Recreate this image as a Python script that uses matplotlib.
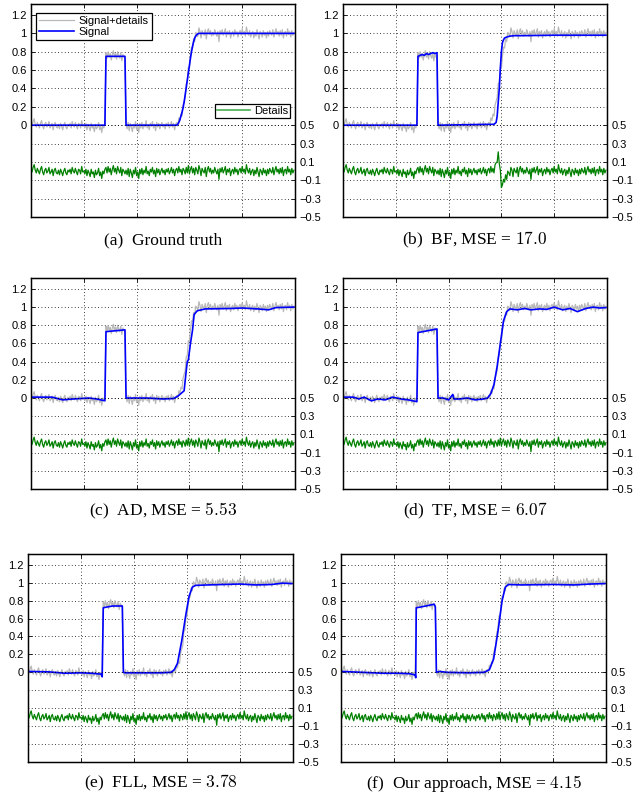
import numpy as np
import matplotlib
matplotlib.use("Agg")
import matplotlib.pyplot as plt

# input noise (the "details"), one value per sample
noise = [
    0.02, -0.01, 0.04, 0.07, 0.01, -0.02, 0.03, 0.00, -0.03, 0.02, 0.05, -0.01, -0.04, 0.01, 0.03, -0.02, 0.00, 0.04, -0.03, -0.01, 0.02, -0.05, 0.01, 0.03, -0.02,
    -0.03, 0.01, -0.04, 0.02, -0.01, -0.05, 0.00, 0.03, -0.02, -0.04, 0.01, -0.01, 0.02, -0.03, 0.04, 0.00, -0.02, 0.03, -0.01, -0.04, 0.02, 0.01, -0.03, 0.05, -0.01,
    0.00, -0.03, 0.02, -0.05, 0.01, -0.02, -0.06, 0.02, -0.03, -0.01, -0.07, 0.01, -0.04, -0.02, 0.03, -0.05, -0.01, -0.08, 0.00, -0.03, 0.02, 0.04, -0.02, 0.05, -0.01,
    0.03, -0.04, 0.02, 0.06, -0.01, 0.03, -0.03, 0.05, 0.01, -0.02, 0.04, -0.05, 0.02, 0.00, -0.03, 0.01, -0.04, 0.03, -0.06, 0.02, -0.02, -0.07, 0.01, -0.03, 0.04,
    -0.05, -0.01, -0.08, 0.02, -0.03, 0.03, -0.04, 0.01, -0.02, 0.05, -0.03, 0.00, -0.05, 0.02, -0.01, 0.04, -0.03, 0.01, -0.06, 0.03, -0.02, 0.02, -0.04, 0.00, 0.03,
    -0.02, 0.01, -0.04, 0.02, -0.01, 0.03, -0.03, 0.00, 0.04, -0.02, 0.02, -0.05, 0.01, 0.03, -0.02, 0.05, -0.01, 0.02, -0.04, 0.03, 0.01, -0.03, 0.04, -0.02, 0.06,
    -0.03, 0.02, 0.05, -0.02, 0.03, -0.04, 0.04, 0.01, -0.03, 0.06, 0.02, -0.05, 0.03, 0.00, -0.02, 0.04, -0.06, 0.02, 0.05, -0.01, 0.03, -0.03, 0.01, -0.02, 0.04,
    0.00, -0.03, 0.02, -0.09, 0.03, -0.01, 0.04, -0.02, 0.01, 0.05, -0.04, 0.02, -0.01, 0.03, -0.05, 0.00, 0.02, -0.03, 0.04, -0.01, 0.02, -0.04, 0.01, 0.03, -0.02,
    0.05, -0.01, 0.02, -0.03, 0.07, 0.01, -0.02, 0.03, -0.04, 0.00, 0.02, -0.05, 0.01, -0.03, 0.04, -0.01, -0.06, 0.02, 0.00, -0.04, 0.03, -0.02, 0.01, -0.05, 0.02,
    -0.03, 0.03, 0.00, -0.02, 0.04, -0.04, 0.01, 0.05, -0.01, 0.02, -0.03, 0.03, -0.02, 0.04, -0.05, 0.01, 0.02, -0.03, 0.05, -0.01, 0.02, -0.04, 0.03, -0.02, 0.01,
]

# clean signal: flat, pulse, flat, ramp, flat
ramp = [0.01, 0.03, 0.06, 0.10, 0.14, 0.19, 0.25, 0.33, 0.41, 0.49,
        0.57, 0.65, 0.73, 0.80, 0.86, 0.91, 0.95, 0.97, 0.985, 0.995]
signal = [0.0] * 71 + [0.75] * 19 + [0.0] * 49 + ramp + [1.0] * 91

# BF leaves a bump in the details around the ramp (samples 141..161)
bf_bump_start = 141
bf_bump = [0.0, 0.01, 0.02, 0.04, 0.08, 0.13, 0.17, 0.10, -0.05, -0.15, -0.17,
           -0.14, -0.10, -0.07, -0.05, -0.04, -0.03, -0.02, -0.02, -0.01, -0.01]

# estimated signals (x, y) for each method
bf_x = [0, 70, 71, 73, 75, 77, 79, 81, 83, 85, 87, 89, 90, 91, 143, 145, 146, 147, 148, 149,
        150, 151, 152, 153, 155, 158, 162, 170, 200, 249]
bf_y = [0.0, 0.0, 0.75, 0.76, 0.77, 0.76, 0.78, 0.77, 0.78, 0.79, 0.78, 0.79, 0.0, 0.0, 0.01, 0.03,
        0.10, 0.25, 0.40, 0.62, 0.80, 0.90, 0.93, 0.95, 0.96, 0.97, 0.975, 0.975, 0.98, 0.98]

ad_x = [0, 20, 30, 40, 55, 62, 70, 71, 80, 89, 90, 95, 110, 125, 135, 139, 142, 145, 147,
        148, 149, 151, 153, 154.5, 157.5, 165, 190, 200, 215, 225, 232, 249]
ad_y = [0.01, 0.01, -0.02, -0.01, 0.0, -0.01, -0.03, 0.73, 0.74, 0.75, 0.0, 0.0, 0.0, -0.01,
        -0.005, 0.02, 0.05, 0.08, 0.30, 0.40, 0.42, 0.60, 0.75, 0.92, 0.96, 0.98, 0.985, 0.99,
        0.98, 0.97, 0.995, 1.0]

tf_x = [0, 10, 15, 20, 27, 33, 40, 47, 55, 62, 70, 71, 80, 89, 90, 95, 100, 104, 105, 110,
        118, 125, 133, 137, 140, 143, 146, 149, 152, 155, 158, 165, 172, 178, 186, 193, 200,
        208, 215, 222, 230, 237, 243, 249]
tf_y = [0.01, 0.01, -0.01, 0.01, -0.03, -0.01, -0.02, 0.01, -0.01, -0.02, -0.04, 0.72, 0.74,
        0.76, 0.0, 0.0, -0.02, 0.04, -0.01, -0.01, 0.0, -0.02, -0.01, 0.0, 0.05, 0.15, 0.35,
        0.60, 0.85, 0.95, 0.98, 0.97, 0.985, 0.97, 0.98, 0.975, 1.0, 0.97, 0.985, 0.95, 0.985,
        1.0, 0.99, 0.995]

fll_x = [0, 20, 35, 50, 60, 69, 70, 71, 75, 80, 89, 90, 92, 110, 125, 135, 138, 141, 145,
         149, 152, 155, 158, 170, 200, 215, 230, 240, 249]
fll_y = [0.01, 0.005, -0.01, -0.005, -0.01, -0.02, -0.05, 0.72, 0.73, 0.74, 0.74, 0.0,
         -0.005, -0.005, -0.005, 0.0, 0.03, 0.10, 0.35, 0.65, 0.85, 0.95, 0.97, 0.975, 0.985,
         0.975, 0.98, 0.995, 0.99]

our_x = [0, 20, 40, 55, 65, 70, 70.5, 71, 80, 88, 89, 90, 93, 100, 120, 135, 140, 144, 148,
         152, 155, 158, 170, 200, 220, 235, 249]
our_y = [0.01, 0.0, -0.01, -0.01, -0.015, -0.03, -0.06, 0.72, 0.74, 0.76, 0.73, 0.0, 0.01,
         0.0, -0.005, 0.0, 0.03, 0.15, 0.45, 0.80, 0.95, 0.98, 0.975, 0.98, 0.975, 0.985, 0.99]

captions = ["(a)  Ground truth", "(b)  BF, MSE = $17.0$", "(c)  AD, MSE = $5.53$",
            "(d)  TF, MSE = $6.07$", "(e)  FLL, MSE = $3.78$", "(f)  Our approach, MSE = $4.15$"]

x = np.arange(len(signal))
noise = np.array(noise)
signal = np.array(signal)
noisy = signal + noise

bf_details = noise.copy()
bf_details[bf_bump_start:bf_bump_start + len(bf_bump)] += np.array(bf_bump)

panels = [
    (x, signal, noise),
    (bf_x, bf_y, bf_details),
    (ad_x, ad_y, noise),
    (tf_x, tf_y, noise),
    (fll_x, fll_y, noise),
    (our_x, our_y, noise),
]

plt.rcParams["font.family"] = ["Liberation Sans", "DejaVu Sans"]
plt.rcParams["mathtext.fontset"] = "cm"

W, H = 644, 797
fig = plt.figure(figsize=(W / 100, H / 100), dpi=100)

# axes boxes in pixels: left, right, top, bottom
boxes = [
    (31, 295, 4, 217), (343, 607, 4, 217),
    (31, 295, 278, 489), (343, 607, 278, 489),
    (28, 293, 554, 762), (341, 606, 554, 762),
]
cap_y = [240, 511, 783]

GRAY = "#b8b8b8"
BLUE = "#0000ff"
GREEN = "#008000"
YTOP = 1.32

for i, ((l, r, t, b), (sx, sy, det)) in enumerate(zip(boxes, panels)):
    ax = fig.add_axes([l / W, 1 - b / H, (r - l) / W, (b - t) / H])
    ax.plot(x, noisy, color=GRAY, lw=0.9, label="Signal+details")
    ax.plot(sx, sy, color=BLUE, lw=1.2, label="Signal")
    ax.set_xlim(0, 250)
    ax.set_ylim(-1.0, YTOP)
    ax.set_xticks([50, 100, 150, 200])
    ax.set_xticklabels([])
    ax.set_yticks([0, 0.2, 0.4, 0.6, 0.8, 1.0, 1.2])
    ax.set_yticklabels(["0", "0.2", "0.4", "0.6", "0.8", "1", "1.2"])
    ax.tick_params(direction="in", length=3, width=0.6, labelsize=8, top=True, pad=3)
    ax.grid(True, color="black", linestyle=(0, (1, 3)), linewidth=0.6)
    for s in ax.spines.values():
        s.set_linewidth(1.0)

    ax2 = ax.twinx()
    l2, = ax2.plot(x, det, color=GREEN, lw=0.9, label="Details")
    ax2.set_ylim(-0.5, YTOP + 0.5)
    ax2.set_yticks([-0.5, -0.3, -0.1, 0.1, 0.3, 0.5])
    ax2.set_yticklabels(["\u22120.5", "\u22120.3", "\u22120.1", "0.1", "0.3", "0.5"])
    ax2.tick_params(direction="in", length=3, width=0.6, labelsize=8, pad=3)
    ax2.grid(True, axis="y", color="black", linestyle=(0, (1, 3)), linewidth=0.6)

    if i == 0:
        leg = ax2.legend(handles=ax.get_lines(), loc="upper left", bbox_to_anchor=(0.019, 0.958),
                         borderaxespad=0, fontsize=8, handlelength=3.2, handletextpad=0.4,
                         fancybox=False, edgecolor="black", framealpha=1, borderpad=0.25,
                         labelspacing=0.1)
        leg.get_frame().set_linewidth(0.9)
        ax2.add_artist(leg)
        leg2 = ax2.legend(handles=[l2], loc="upper right", bbox_to_anchor=(0.981, 0.531),
                          borderaxespad=0, fontsize=8, handlelength=3.0, handletextpad=0.3,
                          fancybox=False, edgecolor="black", framealpha=1, borderpad=0.2)
        leg2.get_frame().set_linewidth(0.9)
        leg2.get_lines()[0].set_color("#4caf50")
        leg2.get_lines()[0].set_linewidth(1.2)

    fig.text((l + r) / 2 / W, 1 - cap_y[i // 2] / H, captions[i], ha="center", va="center",
             fontsize=12.5, family=["Liberation Serif", "DejaVu Serif"])

fig.savefig("out.png", dpi=100)
